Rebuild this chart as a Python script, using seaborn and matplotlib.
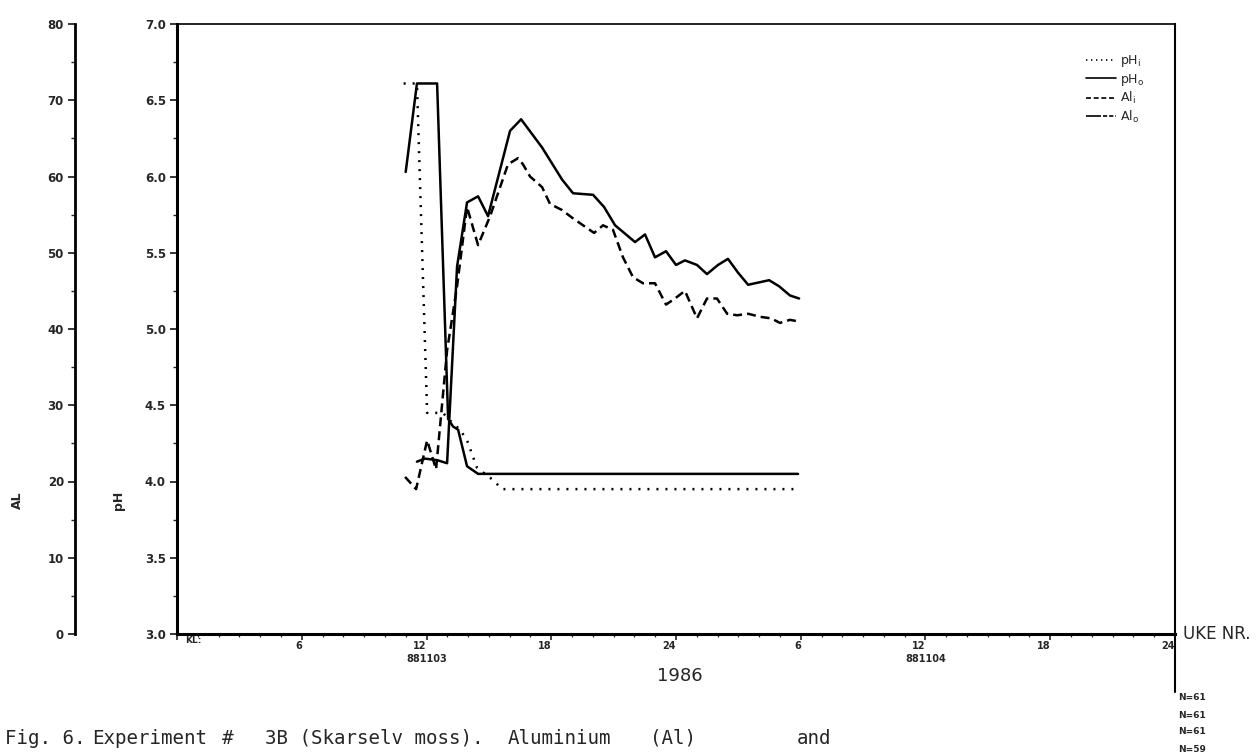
import numpy as np
import pandas as pd
import matplotlib
matplotlib.use("Agg")
import matplotlib.pyplot as plt
from matplotlib.lines import Line2D
from matplotlib.ticker import MultipleLocator
import seaborn as sns

# ---------------- data (hours after 881103 00:00) ----------------
ph_i_hours = [10.9, 11.54, 12.03, 12.79, 13.13, 13.61, 13.95, 14.43, 15.20, 15.63, 29.87]
ph_i_vals = [6.61, 6.61, 4.45, 4.45, 4.40, 4.34, 4.27, 4.09, 4.01, 3.95, 3.95]

ph_o_hours = [11.0, 11.54, 12.51, 13.04, 13.28, 13.52, 13.95, 14.48, 29.87]
ph_o_vals = [6.03, 6.61, 6.61, 4.41, 4.36, 4.34, 4.10, 4.05, 4.05]

al_i_hours = [10.97, 11.50, 12.03, 12.46, 12.99, 13.47, 13.95, 14.48, 15.06, 15.54,
              15.92, 16.40, 16.64, 16.98, 17.56, 17.94, 18.52, 19.00, 19.53, 20.06,
              20.49, 20.97, 21.45, 21.93, 22.41, 22.99, 23.52, 23.95, 24.43, 25.01,
              25.49, 25.97, 26.46, 26.94, 27.47, 28.04, 28.57, 29.00, 29.48, 29.87]
al_i_vals = [20.6, 19.0, 25.4, 21.6, 37.2, 45.6, 56.0, 51.0, 54.8, 58.6,
             61.6, 62.4, 61.6, 60.0, 58.6, 56.4, 55.6, 54.6, 53.6, 52.6,
             53.6, 53.0, 49.4, 46.8, 46.0, 46.0, 43.2, 44.0, 45.0, 41.4,
             44.0, 44.0, 42.0, 41.8, 42.0, 41.6, 41.4, 40.8, 41.2, 41.0]

al_o_hours = [11.54, 11.93, 12.51, 12.99, 13.47, 13.95, 14.48, 14.96, 16.02, 16.55,
              17.56, 18.52, 19.05, 20.01, 20.54, 21.07, 22.03, 22.51, 22.99, 23.52,
              24.00, 24.43, 25.01, 25.49, 26.02, 26.50, 26.98, 27.47, 28.48, 28.96,
              29.48, 29.92]
al_o_vals = [22.6, 23.0, 22.8, 22.4, 48.2, 56.6, 57.4, 54.8, 66.0, 67.5,
             63.8, 59.6, 57.8, 57.6, 56.0, 53.6, 51.4, 52.4, 49.4, 50.2,
             48.4, 49.0, 48.4, 47.2, 48.4, 49.2, 47.4, 45.8, 46.4, 45.6,
             44.4, 44.0]

x_ticks = [0, 6, 12, 18, 24, 30, 36, 42, 48]
x_tick_labels = ["", "6", "12", "18", "24", "6", "12", "18", "24"]
date_ticks = [12, 36]
date_labels = ["881103", "881104"]
n_labels = ["N=61", "N=61", "N=61", "N=59"]
legend_labels = [r"pH$_\mathregular{i}$", r"pH$_\mathregular{o}$",
                 r"Al$_\mathregular{i}$", r"Al$_\mathregular{o}$"]
caption_parts = ["Fig. 6.", "Experiment", "#", "3B (Skarselv moss).",
                 "Aluminium", "(Al)", "and"]
caption_x = [5, 92, 222, 265, 508, 650, 797]

# ---------------- styling ----------------
sns.set_style("white")
plt.rcParams["font.family"] = ["DejaVu Sans"]

W, H = 1260, 754
fig = plt.figure(figsize=(W / 100, H / 100), dpi=100)
x0, x1, y_top, y_bot = 177, 1175, 24, 634
ax = fig.add_axes([x0 / W, (H - y_bot) / H, (x1 - x0) / W, (y_bot - y_top) / H])
ax2 = ax.twinx()

DOT = (0, (0.8, 2.8))
DASH = (0, (3.6, 2.0))

df_phi = pd.DataFrame({"t": ph_i_hours, "v": ph_i_vals})
df_pho = pd.DataFrame({"t": ph_o_hours, "v": ph_o_vals})
df_ali = pd.DataFrame({"t": al_i_hours, "v": al_i_vals})
df_alo = pd.DataFrame({"t": al_o_hours, "v": al_o_vals})

sns.lineplot(data=df_phi, x="t", y="v", ax=ax, color="black", lw=1.8,
             linestyle=DOT, sort=False, estimator=None)
sns.lineplot(data=df_pho, x="t", y="v", ax=ax, color="black", lw=1.8,
             sort=False, estimator=None)
sns.lineplot(data=df_ali, x="t", y="v", ax=ax2, color="black", lw=1.8,
             linestyle=DASH, sort=False, estimator=None)
sns.lineplot(data=df_alo, x="t", y="v", ax=ax2, color="black", lw=1.8,
             sort=False, estimator=None)

ax.set_xlim(0, 48)
ax.set_ylim(3.0, 7.0)
ax2.set_ylim(0, 80)
ax.set_xlabel("")
ax.set_ylabel("")
ax2.set_ylabel("")

# pH axis (inner left)
ax.set_yticks(np.arange(3.0, 7.01, 0.5))
ax.set_yticklabels([f"{v:.1f}" for v in np.arange(3.0, 7.01, 0.5)],
                   fontweight="bold", fontsize=8.5)
ax.yaxis.set_minor_locator(MultipleLocator(0.25))
ax.tick_params(axis="y", which="major", direction="out", length=5, width=1.3,
               left=True, right=False, pad=3)
ax.tick_params(axis="y", which="minor", direction="out", length=3, width=1.0,
               left=True, right=False)

# x axis
ax.set_xticks(x_ticks)
ax.set_xticklabels(x_tick_labels, fontweight="bold", fontsize=7, ha="right")
ax.xaxis.set_minor_locator(MultipleLocator(1))
ax.tick_params(axis="x", which="major", direction="out", length=4, width=1.2,
               bottom=True, pad=1)
ax.tick_params(axis="x", which="minor", direction="out", length=2, width=0.9,
               bottom=True)
ax.text(0.4, -0.004, "KL:", transform=ax.get_xaxis_transform(), fontsize=6.5,
        fontweight="bold", ha="left", va="top")
for t, lab in zip(date_ticks, date_labels):
    ax.text(t, -0.033, lab, transform=ax.get_xaxis_transform(), fontsize=7,
            fontweight="bold", ha="center", va="top")

# AL axis (outer left)
ax2.yaxis.set_ticks_position("left")
ax2.yaxis.set_label_position("left")
ax2.spines["left"].set_position(("axes", -(x0 - 75) / (x1 - x0)))
ax2.set_yticks(np.arange(0, 81, 10))
ax2.set_yticklabels([str(v) for v in range(0, 81, 10)], fontweight="bold", fontsize=8.5)
ax2.yaxis.set_minor_locator(MultipleLocator(5))
ax2.tick_params(axis="y", which="major", direction="out", length=5, width=1.3,
                left=True, right=False, labelleft=True, labelright=False, pad=3)
ax2.tick_params(axis="y", which="minor", direction="out", length=3, width=1.0,
                left=True, right=False)
for s in ["top", "right", "bottom"]:
    ax2.spines[s].set_visible(False)
ax2.spines["left"].set_linewidth(2.0)
ax2.spines["left"].set_color("black")

for s, lw in [("left", 2.2), ("bottom", 2.2), ("top", 1.2), ("right", 1.5)]:
    ax.spines[s].set_linewidth(lw)
    ax.spines[s].set_color("black")
    ax.spines[s].set_visible(True)

# right border continues below the axis
ax.add_line(Line2D([1, 1], [0, -(692 - y_bot) / (y_bot - y_top)], transform=ax.transAxes,
                   color="black", lw=1.5, clip_on=False))

# axis titles and texts
fig.text(17 / W, 1 - 500 / H, "AL", rotation=90, fontsize=9, fontweight="bold",
         ha="center", va="center")
fig.text(118 / W, 1 - 500 / H, "pH", rotation=90, fontsize=9, fontweight="bold",
         ha="center", va="center")
fig.text(1183 / W, 1 - y_bot / H, "UKE NR.", fontsize=12, ha="left", va="center")
fig.text(680 / W, 1 - 676 / H, "1986", fontsize=13, ha="center", va="center")
for i, lab in enumerate(n_labels):
    fig.text(1178 / W, 1 - (698 + 17 * i) / H, lab, fontsize=6.5, fontweight="bold",
             ha="left", va="center")
for part, xp in zip(caption_parts, caption_x):
    fig.text(xp / W, 1 - 738 / H, part, family="DejaVu Sans Mono", fontsize=13.8,
             ha="left", va="center")

# legend
handles = [
    Line2D([], [], color="black", lw=1.2, linestyle=(0, (0.8, 2.2))),
    Line2D([], [], color="black", lw=1.2),
    Line2D([], [], color="black", lw=1.2, linestyle=(0, (3, 1.6))),
    Line2D([], [], color="black", lw=1.2, linestyle=(0, (9, 1.2, 2.5, 1.2, 2.5, 1.2))),
]
fig.legend(handles, legend_labels, loc="upper left",
           bbox_to_anchor=(1081 / W, 1 - 48 / H), frameon=False, fontsize=9,
           handlelength=2.4, handletextpad=0.3, labelspacing=0.2, borderaxespad=0)

fig.savefig("out.png", dpi=100, facecolor="white")
